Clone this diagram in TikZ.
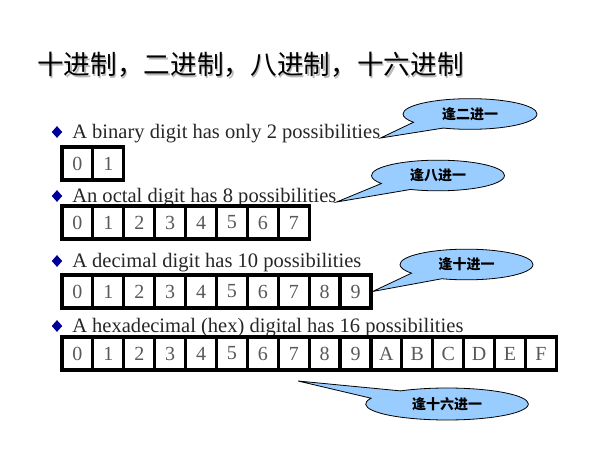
\documentclass[tikz,border=0pt]{standalone}
\usepackage{fontspec}
\setmainfont{Liberation Serif}
\newfontfamily\cjk{Noto Sans CJK SC}
\usetikzlibrary{shapes.geometric,shapes.callouts}
\definecolor{calloutblue}{HTML}{99CCFF}
\definecolor{bulletblue}{HTML}{000099}
\tikzset{
  cell/.style={draw, line width=2.4pt, fill=white, minimum width=23.2pt, minimum height=24.75pt, inner sep=0pt, text=black!65, font=\fontsize{15}{18}\selectfont},
  item/.style={anchor=base west, inner sep=0pt, text=black!85, font=\fontsize{15.4}{18}\selectfont},
  dot/.style={diamond, fill=bulletblue, inner sep=0pt, minimum width=8pt, minimum height=9pt},
  bubble/.style={ellipse callout, draw, fill=calloutblue, line width=0.6pt, inner sep=0pt, minimum height=23pt, callout pointer arc=34, font=\cjk\bfseries\fontsize{10.5}{12}\selectfont}
}

\begin{document}
\begin{tikzpicture}[x=0.75pt,y=-0.75pt]
        \useasboundingbox (0,0) rectangle (600,450);
        \pgfmathsetmacro{\w}{30.9} % set cell width
        \pgfmathsetmacro{\x}{62} % set left edge of rows
        % title
        \node[anchor=west, inner sep=0pt, text=gray!55, font=\cjk\fontsize{20}{24}\selectfont] (titleshadow) at (38.3,66.3) {十进制，二进制，八进制，十六进制};
        \node[anchor=west, inner sep=0pt, font=\cjk\fontsize{20}{24}\selectfont] (title) at (37,65) {十进制，二进制，八进制，十六进制};
        % bullets and lines
        \node[dot] (dotbin) at (57,132) {};
        \node[item] (txtbin) at (72,138) {A binary digit has only 2 possibilities};
        \node[dot] (dotoct) at (57,196) {};
        \node[item] (txtoct) at (72,202) {An octal digit has 8 possibilities};
        \node[dot] (dotdec) at (57,261) {};
        \node[item] (txtdec) at (72,267) {A decimal digit has 10 possibilities};
        \node[dot] (dothex) at (57,326) {};
        \node[item] (txthex) at (72,332) {A hexadecimal (hex) digital has 16 possibilities};
        % digit rows
        \foreach \d [count=\i from 0] in {0,1}
            \node[cell] (bin\i) at ({\x+\w*(\i+0.5)},163.5) {\d};
        \foreach \d [count=\i from 0] in {0,...,7}
            \node[cell] (oct\i) at ({\x+\w*(\i+0.5)},222.5) {\d};
        \foreach \d [count=\i from 0] in {0,...,9}
            \node[cell] (dec\i) at ({\x+\w*(\i+0.5)},291.5) {\d};
        \foreach \d [count=\i from 0] in {0,...,9,A,B,C,D,E,F}
            \node[cell] (hex\i) at ({\x+\w*(\i+0.5)},353.5) {\d};
        % callouts
        \coordinate (tiphex) at (298,381);
        \node[bubble, minimum width=100.5pt, callout absolute pointer={(txtbin.base east)}] (cbin) at (470,114) {逢二进一};
        \node[bubble, minimum width=99.75pt, callout absolute pointer={(txtoct.base east)}] (coct) at (438,175.5) {逢八进一};
        \node[bubble, minimum width=99.75pt, callout absolute pointer={(dec9.east)}] (cdec) at (466.5,264.5) {逢十进一};
        \node[bubble, minimum width=122pt, minimum height=24pt, callout absolute pointer={(tiphex)}] (chex) at (447,404) {逢十六进一};
    \end{tikzpicture}
\end{document}
